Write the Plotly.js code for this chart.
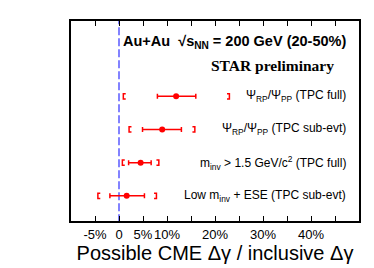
<!DOCTYPE html>
<html>
<head>
<meta charset="utf-8">
<script src="https://cdn.plot.ly/plotly-3.0.1.min.js"></script>
<style>html,body{margin:0;padding:0;background:#fff;}#chart{width:374px;height:268px;}</style>
</head>
<body>
<div id="chart"></div>
<script>
// Data (percent)
var labels = [
  "Ψ<sub>RP</sub>/Ψ<sub>PP</sub> (TPC full)",
  "Ψ<sub>RP</sub>/Ψ<sub>PP</sub> (TPC sub-evt)",
  "m<sub>inv</sub> > 1.5 GeV/c<sup>2</sup> (TPC full)",
  "Low m<sub>inv</sub> + ESE (TPC sub-evt)"
];
var rowPos = [4, 3, 2, 1];
var central = [11.9, 9.0, 4.5, 1.6];
var statLow = [8.0, 4.9, 2.0, -1.9];
var statHigh = [16.0, 13.0, 6.7, 5.3];
var sysLow = [0.9, 2.1, 0.7, -4.4];
var sysHigh = [23.0, 15.8, 8.3, 7.8];
var tickVals = [-5, 0, 5, 10, 20, 30, 40];
var tickText = ["-5%", "0", "5%", "10%", "20%", "30%", "40%"];

var red = "#ff0000";
var traces = [];

// systematic brackets
var bx = [], by = [];
var bw = 0.5, bh = 0.08;
for (var i = 0; i < central.length; i++) {
  var y = rowPos[i];
  bx.push(sysLow[i] + bw, sysLow[i], sysLow[i], sysLow[i] + bw, null);
  by.push(y + bh, y + bh, y - bh, y - bh, null);
  bx.push(sysHigh[i] - bw, sysHigh[i], sysHigh[i], sysHigh[i] - bw, null);
  by.push(y + bh, y + bh, y - bh, y - bh, null);
}
traces.push({x: bx, y: by, mode: "lines", type: "scatter", line: {color: red, width: 1.5}, hoverinfo: "skip", showlegend: false});

// zero line
traces.push({x: [0, 0], y: [0.2, 6.3], mode: "lines", type: "scatter",
  line: {color: "#5a5aff", width: 1.5, dash: "8px,3px"}, hoverinfo: "skip", showlegend: false});

// central values with stat errors
traces.push({
  x: central, y: rowPos, mode: "markers", type: "scatter",
  marker: {color: red, size: 6},
  error_x: {type: "data", symmetric: false,
    array: central.map(function(c, i){ return statHigh[i] - c; }),
    arrayminus: central.map(function(c, i){ return c - statLow[i]; }),
    color: red, thickness: 1.5, width: 2.5},
  showlegend: false
});

var annots = [];
for (var j = 0; j < labels.length; j++) {
  annots.push({x: 47.8, y: rowPos[j], xref: "x", yref: "y", text: labels[j], showarrow: false,
    xanchor: "right", yanchor: "middle", font: {family: "Liberation Sans, Arial", size: 12, color: "#000"}});
}
annots.push({x: 47.8, y: 5.64, xref: "x", yref: "y", text: "<b>Au+Au  √s<sub>NN</sub> = 200 GeV (20-50%)</b>",
  showarrow: false, xanchor: "right", yanchor: "middle", font: {family: "Liberation Sans, Arial", size: 14.5, color: "#000"}});
annots.push({x: 31.9, y: 4.92, xref: "x", yref: "y", text: "<b>STAR preliminary</b>",
  showarrow: false, xanchor: "center", yanchor: "middle", font: {family: "Liberation Serif, Times New Roman", size: 15.5, color: "#000"}});

var layout = {
  width: 374, height: 268,
  margin: {l: 71, r: 15, t: 21, b: 47, pad: 0},
  paper_bgcolor: "#fff", plot_bgcolor: "#fff",
  showlegend: false,
  xaxis: {
    range: [-10, 50], tickvals: tickVals, ticktext: tickText, tickangle: 0,
    ticks: "inside", ticklen: 5, tickwidth: 1, tickcolor: "#000",
    minor: {ticks: "inside", tick0: 0, dtick: 5, ticklen: 5, tickwidth: 1, tickcolor: "#000", showgrid: false},
    showline: true, linecolor: "#000", linewidth: 2, mirror: "ticks",
    showgrid: false, zeroline: false,
    tickfont: {family: "Liberation Sans, Arial", size: 13, color: "#000"},
    title: {text: "Possible CME Δγ / inclusive Δγ", font: {family: "Liberation Sans, Arial", size: 20, color: "#000"}, standoff: 3}
  },
  yaxis: {
    range: [0.24, 6.27], showticklabels: false, ticks: "",
    showline: true, linecolor: "#000", linewidth: 2, mirror: true,
    showgrid: false, zeroline: false
  },
  annotations: annots
};

Plotly.newPlot("chart", traces, layout, {displayModeBar: false, staticPlot: true});
</script>
</body>
</html>
